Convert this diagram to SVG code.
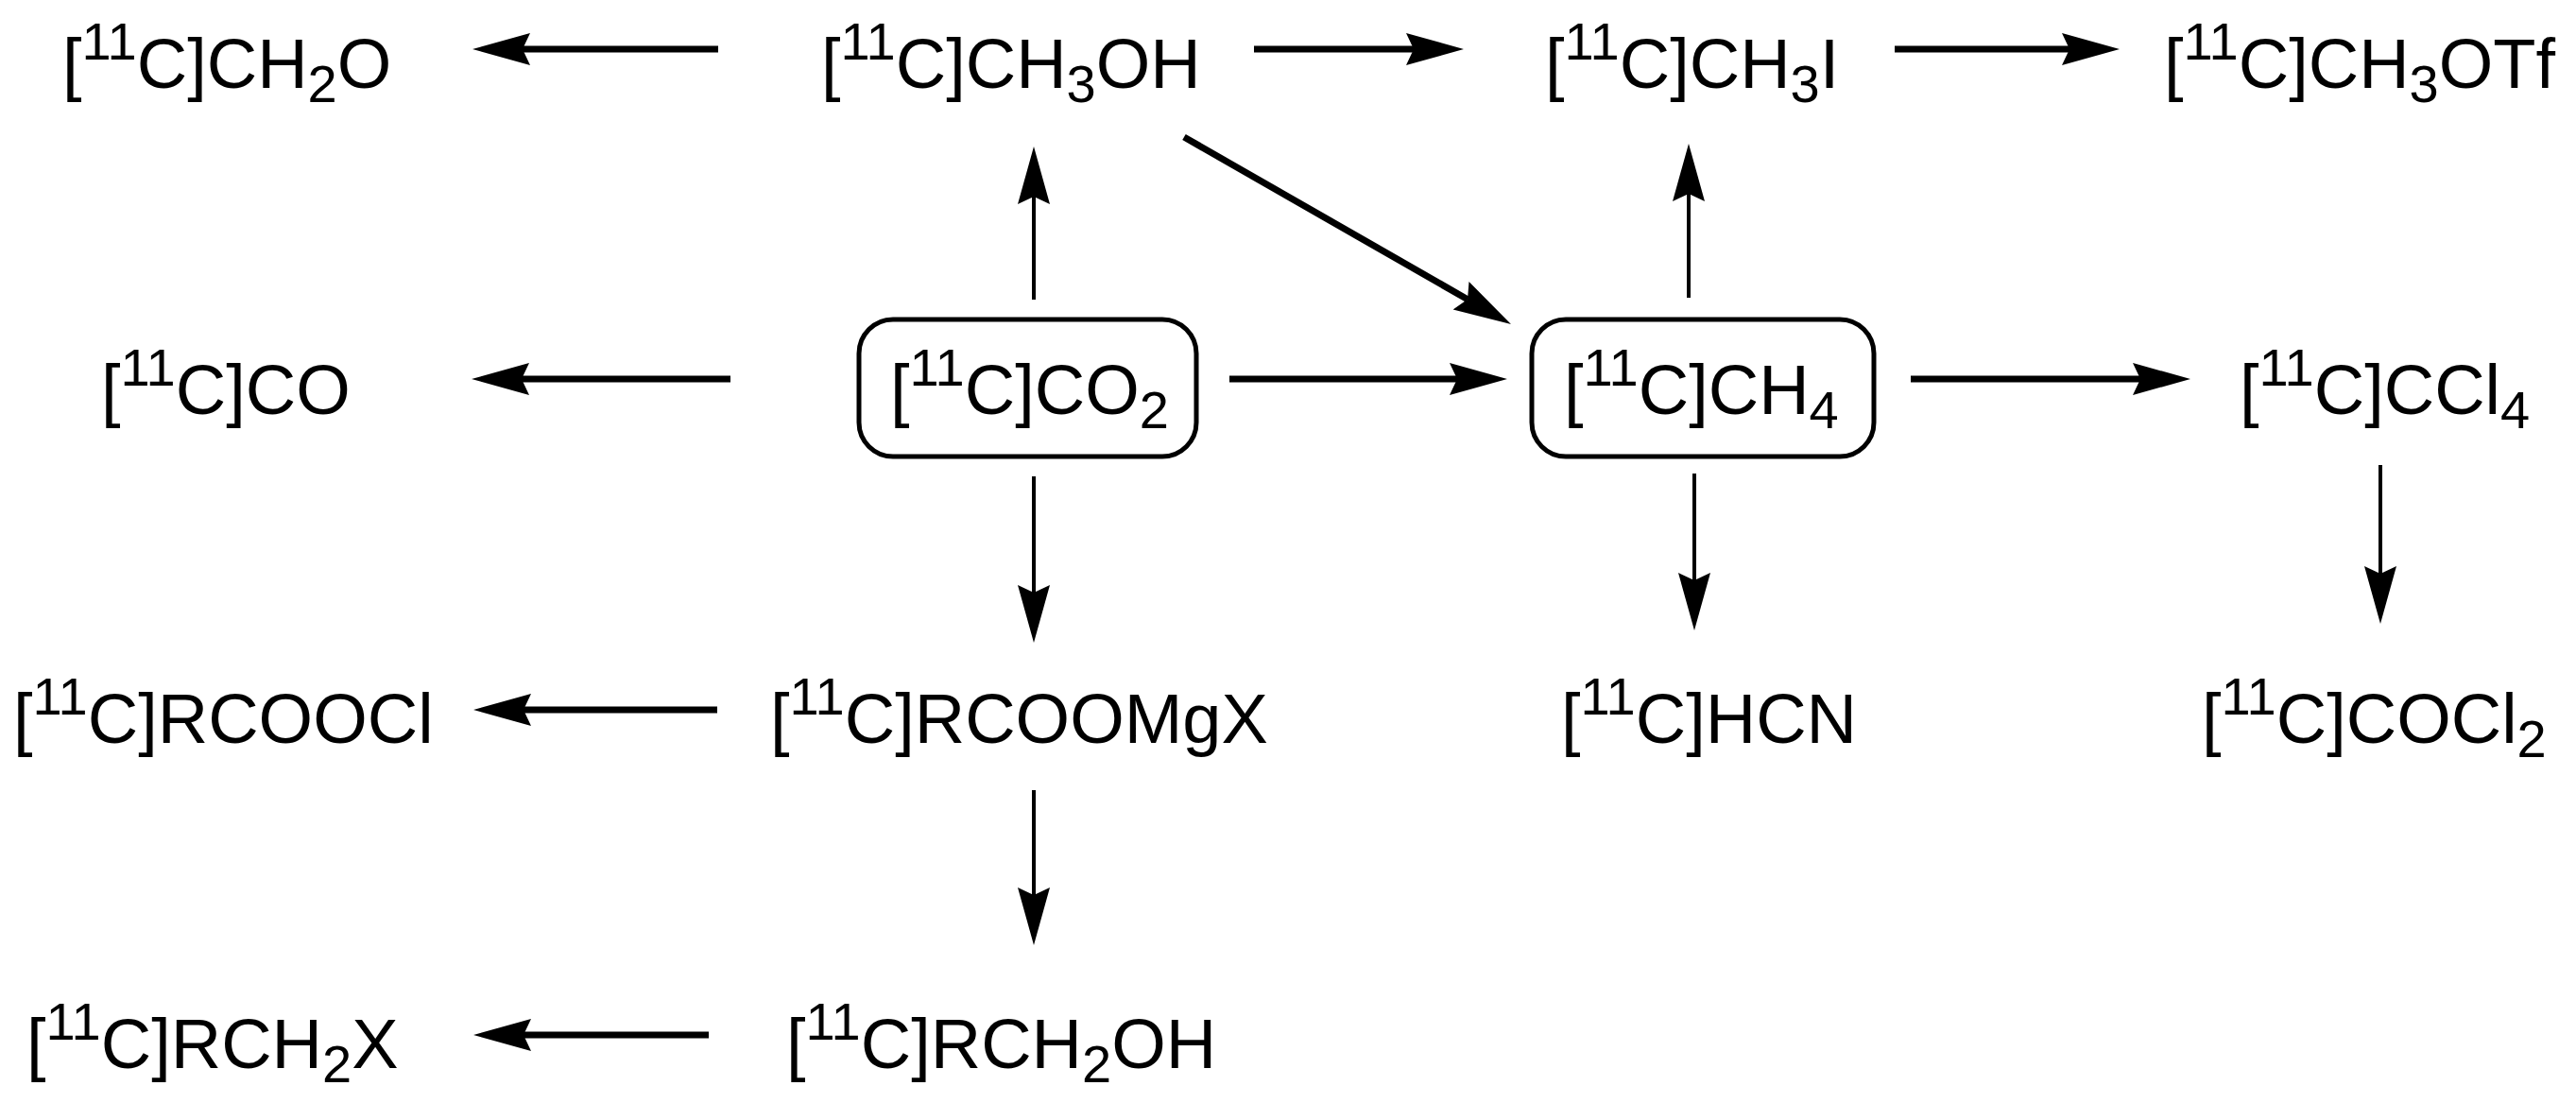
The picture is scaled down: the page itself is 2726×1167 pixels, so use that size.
<svg xmlns="http://www.w3.org/2000/svg" width="2726" height="1167" viewBox="0 0 2726 1167">
<defs>
<style>
.t { font-family: "Liberation Sans", Arial, Helvetica, sans-serif; font-size: 74px; fill: #000; }
.s { font-size: 56px; }
.box { fill: none; stroke: #000; stroke-width: 5; }
.a { stroke: #000; stroke-width: 7; fill: none; marker-end: url(#ah); }
.v { stroke-width: 4; }
</style>
<marker id="ah" markerUnits="userSpaceOnUse" viewBox="0 -18 62 36" markerWidth="62" markerHeight="36" refX="8" refY="0" orient="auto">
<path d="M0,-17 L61,0 L0,17 L8,0 Z" fill="#000"/>
</marker>
</defs>
<rect width="2726" height="1167" fill="#fff"/>

<g id="connectors">
<line class="a" x1="760" y1="52" x2="553" y2="52"/>
<line class="a" x1="1327" y1="52" x2="1496" y2="52"/>
<line class="a" x1="2005" y1="52" x2="2190" y2="52"/>
<line class="a" x1="773" y1="401" x2="552" y2="401"/>
<line class="a" x1="1301" y1="401" x2="1542" y2="401"/>
<line class="a" x1="2022" y1="401" x2="2265" y2="401"/>
<line class="a" x1="759" y1="751" x2="554" y2="751"/>
<line class="a" x1="750" y1="1095" x2="554" y2="1095"/>
<line class="a v" x1="1094" y1="317" x2="1094" y2="208"/>
<line class="a v" x1="1787" y1="315" x2="1787" y2="205"/>
<line class="a v" x1="1094" y1="504" x2="1094" y2="627"/>
<line class="a v" x1="1793" y1="501" x2="1793" y2="614"/>
<line class="a v" x1="2519" y1="492" x2="2519" y2="607"/>
<line class="a v" x1="1094" y1="836" x2="1094" y2="947"/>
<line class="a" x1="1253" y1="145" x2="1553" y2="316.7"/>
</g>

<g id="n-ch2o"><text class="t" x="66" y="93">[<tspan class="s" dy="-30">11</tspan><tspan dy="30">C]CH</tspan><tspan class="s" dy="15">2</tspan><tspan dy="-15">O</tspan></text></g>
<g id="n-ch3oh"><text class="t" x="869" y="93">[<tspan class="s" dy="-30">11</tspan><tspan dy="30">C]CH</tspan><tspan class="s" dy="15">3</tspan><tspan dy="-15">OH</tspan></text></g>
<g id="n-ch3i"><text class="t" x="1635" y="93">[<tspan class="s" dy="-30">11</tspan><tspan dy="30">C]CH</tspan><tspan class="s" dy="15">3</tspan><tspan dy="-15">I</tspan></text></g>
<g id="n-ch3otf"><text class="t" x="2290" y="93">[<tspan class="s" dy="-30">11</tspan><tspan dy="30">C]CH</tspan><tspan class="s" dy="15">3</tspan><tspan dy="-15">OTf</tspan></text></g>

<g id="n-co"><text class="t" x="107" y="438">[<tspan class="s" dy="-30">11</tspan><tspan dy="30">C]CO</tspan></text></g>
<g id="n-co2"><rect class="box" x="909" y="338" width="357" height="145" rx="36" ry="36"/><text class="t" x="942" y="438">[<tspan class="s" dy="-30">11</tspan><tspan dy="30">C]CO</tspan><tspan class="s" dy="15">2</tspan></text></g>
<g id="n-ch4"><rect class="box" x="1621" y="338" width="362" height="145" rx="36" ry="36"/><text class="t" x="1655" y="438">[<tspan class="s" dy="-30">11</tspan><tspan dy="30">C]CH</tspan><tspan class="s" dy="15">4</tspan></text></g>
<g id="n-ccl4"><text class="t" x="2370" y="438">[<tspan class="s" dy="-30">11</tspan><tspan dy="30">C]CCl</tspan><tspan class="s" dy="15">4</tspan></text></g>

<g id="n-rcoocl"><text class="t" x="14" y="786">[<tspan class="s" dy="-30">11</tspan><tspan dy="30">C]RCOOCl</tspan></text></g>
<g id="n-rcoomgx"><text class="t" x="815" y="786">[<tspan class="s" dy="-30">11</tspan><tspan dy="30">C]RCOOMgX</tspan></text></g>
<g id="n-hcn"><text class="t" x="1652" y="786">[<tspan class="s" dy="-30">11</tspan><tspan dy="30">C]HCN</tspan></text></g>
<g id="n-cocl2"><text class="t" x="2330" y="786">[<tspan class="s" dy="-30">11</tspan><tspan dy="30">C]COCl</tspan><tspan class="s" dy="15">2</tspan></text></g>

<g id="n-rch2x"><text class="t" x="28" y="1130">[<tspan class="s" dy="-30">11</tspan><tspan dy="30">C]RCH</tspan><tspan class="s" dy="15">2</tspan><tspan dy="-15">X</tspan></text></g>
<g id="n-rch2oh"><text class="t" x="832" y="1130">[<tspan class="s" dy="-30">11</tspan><tspan dy="30">C]RCH</tspan><tspan class="s" dy="15">2</tspan><tspan dy="-15">OH</tspan></text></g>
</svg>
